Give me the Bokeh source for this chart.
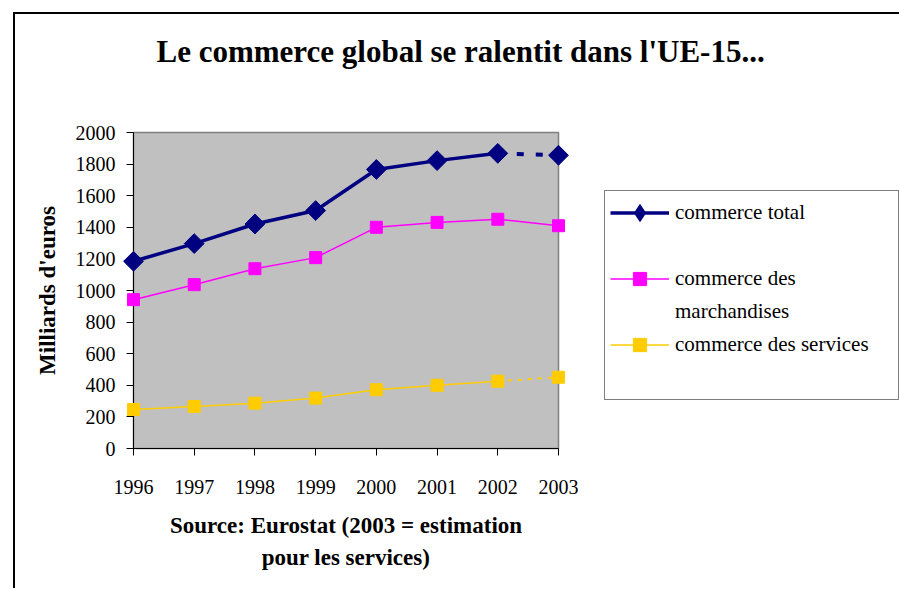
import math
from bokeh.plotting import figure
from bokeh.models import Range1d, Legend, LegendItem, Title, FixedTicker, NumeralTickFormatter
from bokeh.embed import file_html
from bokeh.resources import INLINE

# ---- data ----
years = [1996, 1997, 1998, 1999, 2000, 2001, 2002, 2003]
total = [1185, 1297, 1421, 1506, 1766, 1822, 1868, 1856]
merch = [942, 1037, 1138, 1208, 1400, 1431, 1451, 1410]
services = [247, 266, 287, 319, 372, 400, 426, 451]
y_ticks = [0, 200, 400, 600, 800, 1000, 1200, 1400, 1600, 1800, 2000]

title_text = "Le commerce global se ralentit dans l'UE-15..."
y_label = "Milliards d'euros"
source_lines = ["Source: Eurostat (2003 = estimation", "pour les services)"]
label_total = "commerce total"
label_merch = ["commerce des", "marchandises"]
label_serv = "commerce des services"

FONT = "Liberation Serif"
NAVY = "#000080"
MAGENTA = "#FF00FF"
GOLD = "#FFCC00"

FL, FT, FW, FH = 118, 118, 425, 316
W, H = 882, 574

p = figure(frame_width=FW, frame_height=FH,
           x_range=Range1d(years[0], years[-1]), y_range=Range1d(0, 2000),
           output_backend="svg", toolbar_location=None,
           min_border_left=FL, min_border_top=FT,
           min_border_right=W - FL - FW, min_border_bottom=H - FT - FH)
p.styles = {"margin-left": "13px", "margin-top": "12px",
            "border-left": "2px solid #000", "border-top": "2px solid #000"}

p.background_fill_color = "#C0C0C0"
p.border_fill_color = "white"
p.outline_line_color = "#808080"
p.outline_line_width = 1.5
p.xgrid.visible = False
p.ygrid.visible = False

for ax in (p.xaxis[0], p.yaxis[0]):
    ax.axis_line_color = "black"
    ax.axis_line_width = 1
    ax.major_tick_line_color = "black"
    ax.major_tick_out = 7
    ax.major_tick_in = 0
    ax.minor_tick_out = 0
    ax.minor_tick_in = 0
    ax.major_label_text_font = FONT
    ax.major_label_text_font_size = "20px"
    ax.major_label_text_color = "black"
    ax.formatter = NumeralTickFormatter(format="0")
    ax.axis_label_text_font = FONT
    ax.axis_label_text_font_style = "bold"
    ax.axis_label_text_color = "black"

p.xaxis.ticker = FixedTicker(ticks=years)
p.yaxis.ticker = FixedTicker(ticks=y_ticks)
p.xaxis.major_label_standoff = 24
p.yaxis.major_label_standoff = 11
p.yaxis.axis_label = y_label
p.yaxis.axis_label_text_font_size = "23px"
p.yaxis.axis_label_standoff = 13
p.xaxis.axis_label = source_lines[0]
p.xaxis.axis_label_text_font_size = "23px"
p.xaxis.axis_label_standoff = 16

# ---- series ----
t_line = p.line(years[:7], total[:7], line_color=NAVY, line_width=3.5, level="overlay")
t_est = p.line(years[6:], total[6:], line_color=NAVY, line_width=4, line_dash="7 12", level="overlay")
t_key = p.scatter(years, total, marker="diamond", size=9,
                  fill_color=NAVY, line_color=NAVY, line_width=3, line_join="miter")
t_pts = p.scatter(years, total, marker="square", size=14, angle=math.pi / 4,
                  fill_color=NAVY, line_color=NAVY, level="overlay")

m_line = p.line(years, merch, line_color=MAGENTA, line_width=1.5, level="overlay")
m_pts = p.scatter(years, merch, marker="square", size=12,
                  fill_color=MAGENTA, line_color=MAGENTA, level="overlay")

s_line = p.line(years[:7], services[:7], line_color=GOLD, line_width=1.5, level="overlay")
s_est = p.line(years[6:], services[6:], line_color=GOLD, line_width=2, line_dash="4 6", level="overlay")
s_pts = p.scatter(years, services, marker="square", size=12,
                  fill_color=GOLD, line_color=GOLD, level="overlay")

legend = Legend(items=[
    LegendItem(label=label_total, renderers=[t_line, t_key]),
    LegendItem(label=" ", renderers=[]),
    LegendItem(label=label_merch[0], renderers=[m_line, m_pts]),
    LegendItem(label=label_merch[1], renderers=[]),
    LegendItem(label=label_serv, renderers=[s_line, s_pts]),
    LegendItem(label=" ", renderers=[]),
], location=(46, 48))
legend.border_line_color = "black"
legend.border_line_width = 1
legend.background_fill_color = "white"
legend.background_fill_alpha = 1
legend.label_text_font = FONT
legend.label_text_font_size = "21px"
legend.label_text_color = "black"
legend.glyph_width = 59
legend.glyph_height = 33
legend.label_height = 33
legend.label_width = 218
legend.label_standoff = 6
legend.padding = 5
legend.spacing = 0
legend.margin = 0
p.add_layout(legend, "right")

# ---- titles ----
p.add_layout(Title(text=title_text + "\n ", align="left", offset=23, text_font=FONT,
                   text_font_size="31px", text_font_style="bold", text_color="black",
                   text_line_height=1.5, standoff=22), "above")
p.add_layout(Title(text=source_lines[1], align="center", text_font=FONT,
                   text_font_size="23px", text_font_style="bold", text_color="black",
                   standoff=5), "below")

open("out.html", "w").write(file_html(p, INLINE))
